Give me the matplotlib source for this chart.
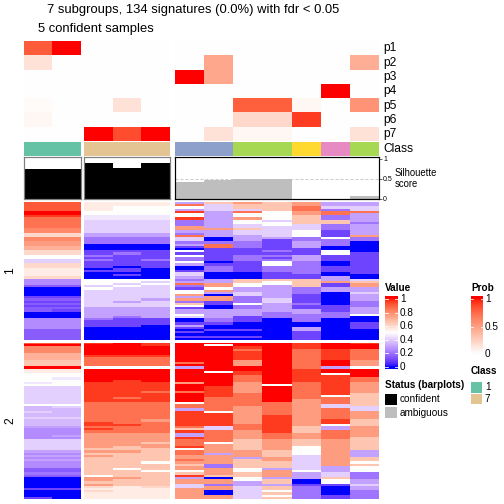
import numpy as np
import matplotlib
matplotlib.use('Agg')
import matplotlib.pyplot as plt
from matplotlib.colors import ListedColormap
from matplotlib.patches import Rectangle

plt.rcParams['font.family'] = ['Liberation Sans', 'DejaVu Sans']

# ---------------- data ----------------
title_line1 = "7 subgroups, 134 signatures (0.0%) with fdr < 0.05"
title_line2 = "5 confident samples"

# class of each of the 12 samples (columns)
sample_class = ['1', '1', '7', '7', '7', '3', '3', '5', '5', '6', '4', '5']
class_colors = {'1': '#66C2A5', '2': '#FC8D62', '3': '#8DA0CB', '4': '#E78AC3',
                '5': '#A6D854', '6': '#FFD92F', '7': '#E5C494'}
sample_status = ['confident'] * 5 + ['ambiguous'] * 7
silhouette = [0.75, 0.75, 0.90, 0.78, 0.90, 0.43, 0.475, 0.49, 0.49, 0.0, 0.0, 0.075]

prob_labels = ['p1', 'p2', 'p3', 'p4', 'p5', 'p6', 'p7']
p1 = [0.80, 1.00, 0, 0, 0, 0, 0, 0, 0, 0, 0, 0]
p2 = [0.15, 0, 0, 0, 0, 0, 0.45, 0, 0, 0, 0, 0.42]
p3 = [0, 0, 0, 0, 0, 1.00, 0.45, 0, 0, 0, 0, 0]
p4 = [0, 0, 0, 0, 0, 0, 0, 0, 0, 0, 1.00, 0]
p5 = [0.02, 0, 0, 0.15, 0, 0, 0, 0.78, 0.78, 0.04, 0, 0.55]
p6 = [0.04, 0, 0, 0, 0, 0, 0, 0.20, 0.20, 0.90, 0, 0]
p7 = [0, 0, 1.00, 0.85, 1.00, 0, 0.15, 0.04, 0.04, 0, 0, 0.15]

# heatmap values: one string per signature, one char per sample,
# char = base-21 digit, value = digit / 20  ('0' = 0, 'a' = 0.5, 'k' = 1)
heat_slice1 = [
    "iibbb6dfdf66", "iibbbh8ddf66", "iibaaa8ddh88", "iibaa688dh48",
    "kkaaaj6hafhh", "kkaaaa6aafh6", "jj999a6aad46", "hh999j6fad46",
    "hh88846a8dd6", "hh88846aadd4", "hh888468a846", "hh888f688846",
    "gg888ffd8846", "gg8886688a26", "cc6664688a26", "cc666h668a2f",
    "gg44480664a4", "gg4448062444", "ff4444442640", "ff0006h42640",
    "ee0002h42600", "ee0000222200", "cc222a2242a0", "cc24222222a2",
    "aa422a244622", "aa2224242622", "884244244622", "88222a02a402",
    "cc222622a402", "cc2020424422", "bb0200424422", "bb2202424422",
    "bb0008002402", "bb0208002200", "cc0006002260", "55aaa46ddd68",
    "55aa866dadfd", "55a8ahfaad2f", "338a84fa6d2f", "00a882a66466",
    "00888af66466", "00888a686408", "00888f086206", "228886f46206",
    "33886ff48206", "228684248204", "33888d2a6404", "22888a046224",
    "336662046226", "326666666626", "006666664646", "00666a66444a",
    "006468624440", "554220420400", "552220420400", "552222200002",
    "552206000002", "550002000602", "330000220600", "330002000200",
    "330000000200", "330002220200", "330000000200",
]
heat_slice2 = [
    "iijkjkkkkjkj", "kkkkjkakkjkk", "ggkkkkkjkjkk", "ggkkkkkhkhjh",
    "ggkkkkkjkhjh", "eekkkkkjkhjh", "eejjjkkjkhjh", "eehhhkkjkhjh",
    "ddhhhkkfkhkf", "ddhhhhkfkhkf", "ddhhhkkfkhkf", "kkaaa6kkkh6a",
    "bbkkkkkkkjkk", "bbkkkkajkjkk", "aakkkkkjkjak", "aakkkkkhkjjk",
    "a9kkkkkhkjjh", "aakjkkkhkjjh", "9ajjjfkfkhjf", "aajjjkkfahjf",
    "88jjjkjfkhjf", "88jjjkjfkhjf", "88jjhhjfkhjf", "88jjjkjhkhjd",
    "88jjjkjhkhad", "88jhjkhhkhhd", "88jjjkhhkfhd", "88hhhahhhfhd",
    "aahhhhhhhf8d", "78hhhhhfhf88", "77hhh6hfhfh8", "87hhhjafhfhf",
    "77hhhjjfhfhf", "77hhhjjfjfhf", "88hhhjjfjfhf", "77hhfjjfjfjd",
    "77jhhjjfjfjd", "77jjhjjhjfad", "66hhhh8hjd6f", "55jhhd8hjd6f",
    "55hhhjhfjdhf", "55fff6hfhfhf", "56fff6hfhfhf", "55fffjhfhfhd",
    "88fffhhdfdfd", "88ffdhadfdfd", "88fffhfdfdfd", "88fdfjfdfafd",
    "88dddafdfafd", "66ffdhffdaf6", "55dddh6fdaf6", "66fddfffd8f6",
    "55dddff6f8fd", "66dddhfdf8fd", "55ddaffdd8fa", "55dddd4dd8fd",
    "55dddf4dd86a", "33dadffa686a", "33ddaafafa6a", "44ddddfdf684",
    "33addjddf684", "00ffd60a66d4", "00fddffad0a6", "00dddff6d0a6",
    "00fdd8466228", "00cbc8f8d406", "22bbbff8d406", "00cbbf08a404",
    "00bbbf08d404", "00bbbff8a424", "20bbbff8d424",
]

value_ticks = [0, 0.2, 0.4, 0.6, 0.8, 1]
prob_ticks = [0, 0.5, 1]
legend_classes = ['1', '7']
status_names = ['confident', 'ambiguous']
status_colors = {'confident': 'black', 'ambiguous': '#BEBEBE'}

# ---------------- colour helpers (LAB interpolation like colorRamp2) ----------------
M = np.array([[0.4124564, 0.3575761, 0.1804375],
              [0.2126729, 0.7151522, 0.0721750],
              [0.0193339, 0.1191920, 0.9503041]])
WHITE = np.array([0.95047, 1.0, 1.08883])


def srgb_to_lab(rgb):
    rgb = np.asarray(rgb, float)
    lin = np.where(rgb <= 0.04045, rgb / 12.92, ((rgb + 0.055) / 1.055) ** 2.4)
    t = (lin @ M.T) / WHITE
    f = np.where(t > (6 / 29) ** 3, np.cbrt(t), t / (3 * (6 / 29) ** 2) + 4 / 29)
    return np.stack([116 * f[..., 1] - 16, 500 * (f[..., 0] - f[..., 1]),
                     200 * (f[..., 1] - f[..., 2])], -1)


def lab_to_srgb(lab):
    L, a, b = lab[..., 0], lab[..., 1], lab[..., 2]
    fy = (L + 16) / 116
    fx = fy + a / 500
    fz = fy - b / 200

    def finv(f):
        return np.where(f > 6 / 29, f ** 3, 3 * (6 / 29) ** 2 * (f - 4 / 29))
    xyz = np.stack([finv(fx), finv(fy), finv(fz)], -1) * WHITE
    lin = np.clip(xyz @ np.linalg.inv(M).T, 0, 1)
    rgb = np.where(lin <= 0.0031308, 12.92 * lin, 1.055 * lin ** (1 / 2.4) - 0.055)
    return np.clip(rgb, 0, 1)


def lab_ramp(colors, n=256):
    labs = [srgb_to_lab(np.array(c)) for c in colors]
    t = np.linspace(0, 1, n)
    segs = len(colors) - 1
    out = []
    for v in t:
        i = min(int(v * segs), segs - 1)
        s = v * segs - i
        out.append(labs[i] * (1 - s) + labs[i + 1] * s)
    return ListedColormap(lab_to_srgb(np.array(out)))


value_cmap = lab_ramp([(0, 0, 1), (1, 1, 1), (1, 0, 0)])
prob_cmap = lab_ramp([(1, 1, 1), (1, 0, 0)])


def parse(rows):
    return np.array([[int(c, 21) / 20 for c in r] for r in rows])


mat1 = parse(heat_slice1)
mat2 = parse(heat_slice2)
prob = np.array([p1, p2, p3, p4, p5, p6, p7])

# ---------------- layout ----------------
W = H = 504
fig = plt.figure(figsize=(7, 7), dpi=72)


def add_ax(x0, y0, x1, y1):
    return fig.add_axes([x0 / W, 1 - y1 / H, (x1 - x0) / W, (y1 - y0) / H])


def ftext(x, y, s, **kw):
    fig.text(x / W, 1 - y / H, s, **kw)


groups = [[0, 1], [2, 3, 4], [5, 6, 7, 8, 9, 10, 11]]
group_x = [(24, 81), (84, 170), (175, 379)]
slice_y = [(202, 340), (343, 499)]

for gi, (cols, (gx0, gx1)) in enumerate(zip(groups, group_x)):
    n = len(cols)
    # heatmap slices
    for (sy0, sy1), mat in zip(slice_y, [mat1, mat2]):
        ax = add_ax(gx0, sy0, gx1, sy1)
        ax.imshow(mat[:, cols], cmap=value_cmap, vmin=0, vmax=1, aspect='auto',
                  interpolation='nearest')
        ax.set_axis_off()
    # probability annotation
    ax = add_ax(gx0, 41, gx1, 141)
    ax.imshow(prob[:, cols], cmap=prob_cmap, vmin=0, vmax=1, aspect='auto',
              interpolation='nearest')
    ax.set_axis_off()
    # class annotation
    ax = add_ax(gx0, 142, gx1, 156)
    for j, c in enumerate(cols):
        ax.add_patch(Rectangle((j, 0), 1, 1, facecolor=class_colors[sample_class[c]],
                               edgecolor='none'))
    ax.set_xlim(0, n)
    ax.set_ylim(0, 1)
    ax.set_axis_off()
    # silhouette barplot
    ax = add_ax(gx0, 157, gx1, 199)
    ax.axhline(0.5, color='#CCCCCC', lw=1, ls=(0, (3, 2)), zorder=0)
    ax.bar(np.arange(n), [silhouette[c] for c in cols], width=1.0,
           color=[status_colors[sample_status[c]] for c in cols], edgecolor='none',
           zorder=2)
    ax.set_xlim(-0.5, n - 0.5)
    ax.set_ylim(0, 1.05)
    border = 'black' if gi == 2 else '#7F7F7F'
    for sp in ax.spines.values():
        sp.set_color(border)
        sp.set_linewidth(1.2)
        sp.set_zorder(3)
    ax.set_xticks([])
    if gi == 2:
        ax.yaxis.tick_right()
        ax.set_yticks([0, 0.5, 1])
        ax.set_yticklabels(['0', '0.5', '1'])
        ax.tick_params(axis='y', labelsize=7, length=3, width=0.6, pad=1)
    else:
        ax.set_yticks([])

# annotation names
for i, lab in enumerate(prob_labels):
    ftext(383, 48.5 + i * 14.3, lab, fontsize=12, va='center', ha='left')
ftext(383, 149, 'Class', fontsize=12, va='center', ha='left')
ftext(395, 173, 'Silhouette', fontsize=9.5, va='center', ha='left')
ftext(395, 184, 'score', fontsize=9.5, va='center', ha='left')

# titles
ftext(47, 10, title_line1, fontsize=13, va='center', ha='left')
ftext(38, 29, title_line2, fontsize=13, va='center', ha='left')

# slice labels
ftext(10, 271, '1', fontsize=12, va='center', ha='center', rotation=90)
ftext(10, 421, '2', fontsize=12, va='center', ha='center', rotation=90)


# ---------------- legends ----------------
def gradient_legend(x0, x1, y_top_val, y_bot_val, cmap, ticks, title, title_y):
    pad_top, pad_bot = 3, 2
    ax = add_ax(x0, y_top_val - pad_top, x1, y_bot_val + pad_bot)
    span = y_bot_val - y_top_val
    lo = -pad_bot / span
    hi = 1 + pad_top / span
    grad = np.clip(np.linspace(hi, lo, 200), 0, 1)[:, None]
    ax.imshow(grad, cmap=cmap, vmin=0, vmax=1, aspect='auto',
              extent=(0, 1, lo, hi), interpolation='bilinear')
    for t in ticks:
        ax.plot([0, 0.2], [t, t], color='white', lw=0.8)
        ax.plot([0.8, 1], [t, t], color='white', lw=0.8)
    ax.set_xlim(0, 1)
    ax.set_ylim(lo, hi)
    ax.set_axis_off()
    for t in ticks:
        y = y_bot_val - t * span
        lab = ('%g' % t)
        ftext(x1 + 2, y, lab, fontsize=10, va='center', ha='left')
    ftext(x0, title_y, title, fontsize=10, fontweight='bold', va='center', ha='left')


gradient_legend(385, 398, 299, 367, value_cmap, value_ticks, 'Value', 288)
gradient_legend(471, 483, 299, 354, prob_cmap, prob_ticks, 'Prob', 288)

# class legend
ftext(471, 371, 'Class', fontsize=10, fontweight='bold', va='center', ha='left')
for i, c in enumerate(legend_classes):
    y0 = 382 + i * 11.5
    ax = add_ax(471, y0, 482, y0 + 10.5)
    ax.add_patch(Rectangle((0, 0), 1, 1, facecolor=class_colors[c], edgecolor='none'))
    ax.set_xlim(0, 1)
    ax.set_ylim(0, 1)
    ax.set_axis_off()
    ftext(485, y0 + 5, c, fontsize=10, va='center', ha='left')

# status legend
ftext(385, 385, 'Status (barplots)', fontsize=10, fontweight='bold', va='center', ha='left')
for i, s in enumerate(status_names):
    y0 = 394 + i * 13
    ax = add_ax(385, y0, 397, y0 + 10.5)
    ax.add_patch(Rectangle((0, 0), 1, 1, facecolor=status_colors[s], edgecolor='none'))
    ax.set_xlim(0, 1)
    ax.set_ylim(0, 1)
    ax.set_axis_off()
    ftext(400, y0 + 5.5, s, fontsize=10, va='center', ha='left')

fig.savefig('out.png', dpi=72)
